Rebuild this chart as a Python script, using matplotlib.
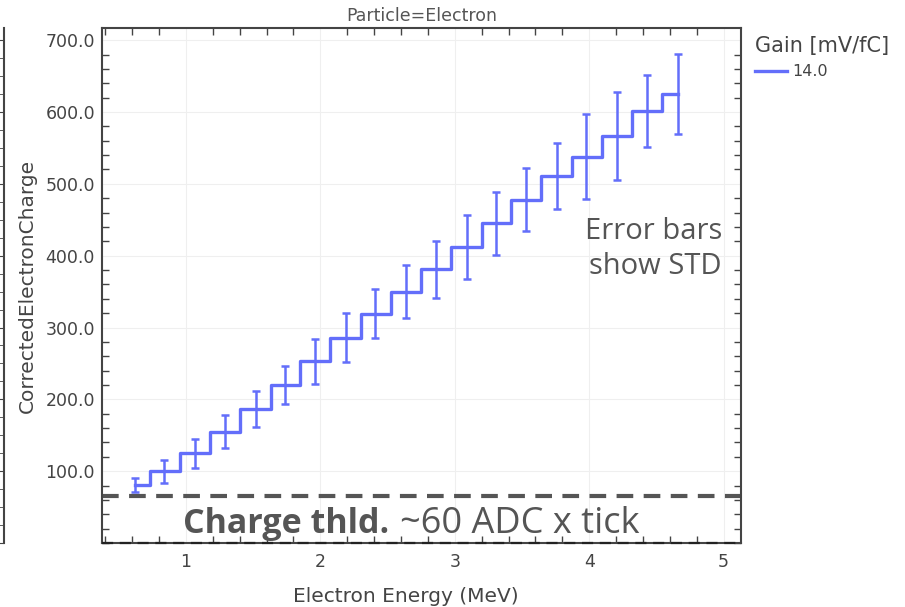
import numpy as np
import matplotlib
matplotlib.use("Agg")
import matplotlib.pyplot as plt
from matplotlib.ticker import MultipleLocator, FormatStrFormatter

# data
energy = [0.62, 0.84, 1.07, 1.29, 1.52, 1.74, 1.96, 2.19, 2.41, 2.64,
          2.86, 3.09, 3.31, 3.53, 3.76, 3.98, 4.21, 4.43, 4.66]
charge = [81, 100, 125, 155, 187, 220, 253, 286, 319, 350,
          381, 412, 445, 478, 511, 538, 567, 602, 625]
charge_std = [10, 16, 20, 23, 25, 27, 31, 34, 34, 37,
              40, 44, 44, 44, 46, 59, 61, 50, 56]
gain_label = "14.0"
threshold = 65

blue = "#636efa"
grey = "#555555"
ann_font = ["Open Sans", "DejaVu Sans"]

fig = plt.figure(figsize=(9.05, 6.07), dpi=100)
ax = fig.add_axes([0.1127, 0.1054, 0.7061, 0.8485])

ax.plot(energy, charge, drawstyle="steps-mid", color=blue, lw=2.4, label=gain_label)
ax.errorbar(energy, charge, yerr=charge_std, fmt="none", ecolor=blue,
            elinewidth=1.8, capsize=3, capthick=1.8)

ax.set_xlim(0.375, 5.13)
ax.set_ylim(0, 717)
ax.xaxis.set_major_locator(MultipleLocator(1))
ax.xaxis.set_minor_locator(MultipleLocator(0.2))
ax.yaxis.set_major_locator(MultipleLocator(100))
ax.yaxis.set_minor_locator(MultipleLocator(20))
ax.yaxis.set_major_formatter(FormatStrFormatter("%.1f"))
ax.set_yticks([100, 200, 300, 400, 500, 600, 700])
ax.grid(True, which="major", color="#efefef", lw=0.8)
ax.set_axisbelow(True)

ax.tick_params(which="both", direction="in", top=True, right=True,
               colors="#444444", labelcolor="#444444", labelsize=12.5)
ax.tick_params(which="major", length=0)
ax.tick_params(which="minor", length=5, width=1)
ax.tick_params(axis="y", pad=5)
ax.tick_params(axis="x", pad=7)
for s in ax.spines.values():
    s.set_color("#444444")
    s.set_linewidth(1.5)

ax.set_xlabel("Electron Energy (MeV)", fontsize=14.5, color="#444444", labelpad=8)
ax.xaxis.set_label_coords(0.475, -0.085)
ax.set_ylabel("CorrectedElectronCharge", fontsize=14.5, color="#444444", labelpad=6)
ax.set_title("Particle=Electron", fontsize=12.5, color="#555555", pad=5)

# threshold lines
ax.axhline(threshold, color=grey, lw=3, ls=(0, (4, 2.5)))
ax.axhline(0, color="#222222", lw=1.6, ls=(0, (5, 3)), zorder=5, clip_on=False)

t1 = ax.text(0.127, 0.036, "Charge thld.", transform=ax.transAxes,
             fontsize=24.5, fontweight="bold", color=grey, family=ann_font,
             ha="left", va="center")
fig.canvas.draw()
bb = t1.get_window_extent().transformed(ax.transAxes.inverted())
ax.text(bb.x1 + 0.016, 0.036, "~60 ADC x tick", transform=ax.transAxes,
        fontsize=26, color=grey, family=ann_font, ha="left", va="center")
ax.text(0.97, 0.571, "Error bars\nshow STD", transform=ax.transAxes,
        fontsize=21, color=grey, family=ann_font, ha="right", va="center",
        linespacing=1.25)

leg = ax.legend(title="Gain [mV/fC]", loc="upper left", bbox_to_anchor=(1.01, 1.0),
                frameon=False, fontsize=11.5, title_fontsize=15, handlelength=2,
                handletextpad=0.3, borderaxespad=0.1, labelspacing=0.2)
leg._legend_box.align = "left"
leg._legend_box.sep = 6
for txt in leg.get_texts():
    txt.set_color("#444444")
leg.get_title().set_color("#444444")

# edge of the neighbouring panel, cut off at the left
ax2 = fig.add_axes([-0.1, 0.1054, 0.1044, 0.8485])
for name, s in ax2.spines.items():
    s.set_visible(name == "right")
ax2.spines["right"].set_color("#444444")
ax2.spines["right"].set_linewidth(1.5)
ax2.set_xticks([])
ax2.set_ylim(0, 717)
ax2.yaxis.set_ticks_position("right")
ax2.yaxis.set_major_locator(MultipleLocator(100))
ax2.yaxis.set_minor_locator(MultipleLocator(25))
ax2.tick_params(which="both", direction="in", labelright=False, length=5,
                colors="#444444")

fig.savefig("out.png", dpi=100)
